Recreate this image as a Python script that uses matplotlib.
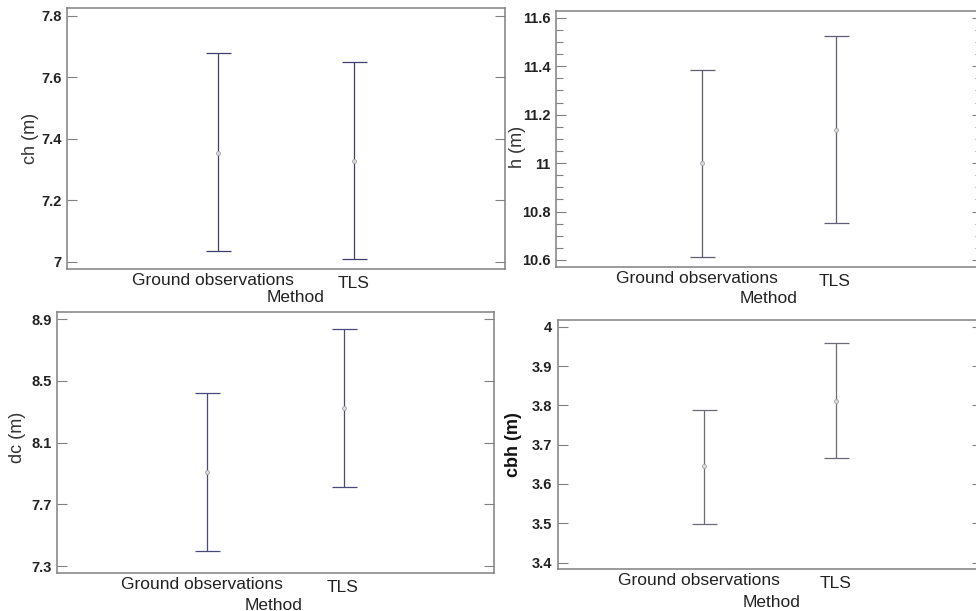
"""Four-panel means plot: Ground observations vs TLS, with 95% intervals."""

import matplotlib
matplotlib.use("Agg")
import matplotlib.pyplot as plt
import numpy as np
from matplotlib import ticker
from matplotlib.transforms import ScaledTranslation, blended_transform_factory

plt.rcParams["font.family"] = ["Liberation Sans", "DejaVu Sans"]

# ------------------------------------------------------------------ data
METHODS = ["Ground observations", "TLS"]

ch_mean = [7.354, 7.327]
ch_low = [7.035, 7.009]
ch_high = [7.678, 7.648]

h_mean = [10.999, 11.137]
h_low = [10.612, 10.751]
h_high = [11.384, 11.524]

dc_mean = [7.908, 8.327]
dc_low = [7.397, 7.814]
dc_high = [8.420, 8.839]

cbh_mean = [3.646, 3.810]
cbh_low = [3.498, 3.665]
cbh_high = [3.788, 3.958]

ch_ticks = [7.0, 7.2, 7.4, 7.6, 7.8]
h_ticks = [10.6, 10.8, 11.0, 11.2, 11.4, 11.6]
dc_ticks = [7.3, 7.7, 8.1, 8.5, 8.9]
cbh_ticks = [3.4, 3.5, 3.6, 3.7, 3.8, 3.9, 4.0]

# ---------------------------------------------------------------- layout
W, H = 976, 611
fig = plt.figure(figsize=(W / 100, H / 100), dpi=100)


def px_rect(left, top, right, bottom):
    return [left / W, 1 - bottom / H, (right - left) / W, (bottom - top) / H]


panels = [
    dict(rect=px_rect(67, 8, 505, 269), ylabel="ch (m)", mean=ch_mean, low=ch_low,
         high=ch_high, ticks=ch_ticks, ylim=(6.976, 7.825), color="#3f3f6e",
         bold=False, lab=(-0.064, 0.5), meth=(0.57, -29), minor=None),
    dict(rect=px_rect(556, 10.7, 982, 267), ylabel="h (m)", mean=h_mean, low=h_low,
         high=h_high, ticks=h_ticks, ylim=(10.571, 11.629), color="#5e5e74",
         bold=False, lab=(-0.071, 0.47), meth=(0.50, -31), minor=0.05),
    dict(rect=px_rect(57.3, 312.3, 494, 573.3), ylabel="dc (m)", mean=dc_mean, low=dc_low,
         high=dc_high, ticks=dc_ticks, ylim=(7.253, 8.945), color="#4a4a7a",
         bold=False, lab=(-0.072, 0.52), meth=(0.485, -32), minor=None),
    dict(rect=px_rect(557.7, 320, 982, 569.3), ylabel="cbh (m)", mean=cbh_mean, low=cbh_low,
         high=cbh_high, ticks=cbh_ticks, ylim=(3.383, 4.017), color="#6c6c78",
         bold=True, lab=(-0.083, 0.5), meth=(0.51, -33), minor=None),
]

x = np.arange(len(METHODS))

for p in panels:
    ax = fig.add_axes(p["rect"])
    mean = np.array(p["mean"])
    yerr = [mean - np.array(p["low"]), np.array(p["high"]) - mean]
    ax.errorbar(x, mean, yerr=yerr, fmt="none", ecolor=p["color"], elinewidth=0.9,
                capsize=9, capthick=0.9)
    ax.plot(x, mean, "o", ms=2.8, mfc="#e0e0e0", mec="#a8a8a8", mew=0.7, ls="none")

    ax.set_xlim(-1.1, 2.1)
    ax.set_ylim(*p["ylim"])
    ax.set_yticks(p["ticks"])
    ax.yaxis.set_major_formatter(ticker.FuncFormatter(lambda v, _: f"{v:g}"))
    if p["minor"]:
        ax.yaxis.set_minor_locator(ticker.MultipleLocator(p["minor"]))
        ax.tick_params(axis="y", which="minor", direction="in", length=5,
                       width=0.8, color="#808080", right=True)
    ax.tick_params(axis="y", which="major", direction="in", length=7, width=0.8,
                   color="#808080", right=True, pad=4, labelsize=10.5)
    for lab in ax.get_yticklabels():
        lab.set_fontweight("bold")
        lab.set_color("#222222")

    ax.set_xticks(x)
    ax.set_xticklabels(METHODS, fontsize=12.5, color="#222222")
    ax.tick_params(axis="x", length=0, pad=3)
    # the first category label sits a little left of its bar, TLS a little lower
    xl = ax.get_xticklabels()
    xl[0].set_transform(xl[0].get_transform() + ScaledTranslation(-0.05, 0, fig.dpi_scale_trans))
    xl[1].set_transform(xl[1].get_transform() + ScaledTranslation(-0.01, -0.03, fig.dpi_scale_trans))

    for s in ax.spines.values():
        s.set_color("#808080")
        s.set_linewidth(1.1)

    ax.set_ylabel(p["ylabel"], fontsize=13, color="#111111" if p["bold"] else "#333333",
                  fontweight="bold" if p["bold"] else "normal")
    ax.yaxis.set_label_coords(*p["lab"])

    mx, my = p["meth"]
    tr = blended_transform_factory(ax.transData, ax.transAxes)
    ax.annotate("Method", xy=(mx, 0), xycoords=tr, xytext=(0, my * 0.72),
                textcoords="offset points", ha="center", va="center",
                fontsize=12.5, color="#222222", annotation_clip=False)

fig.savefig("out.png", dpi=100)
